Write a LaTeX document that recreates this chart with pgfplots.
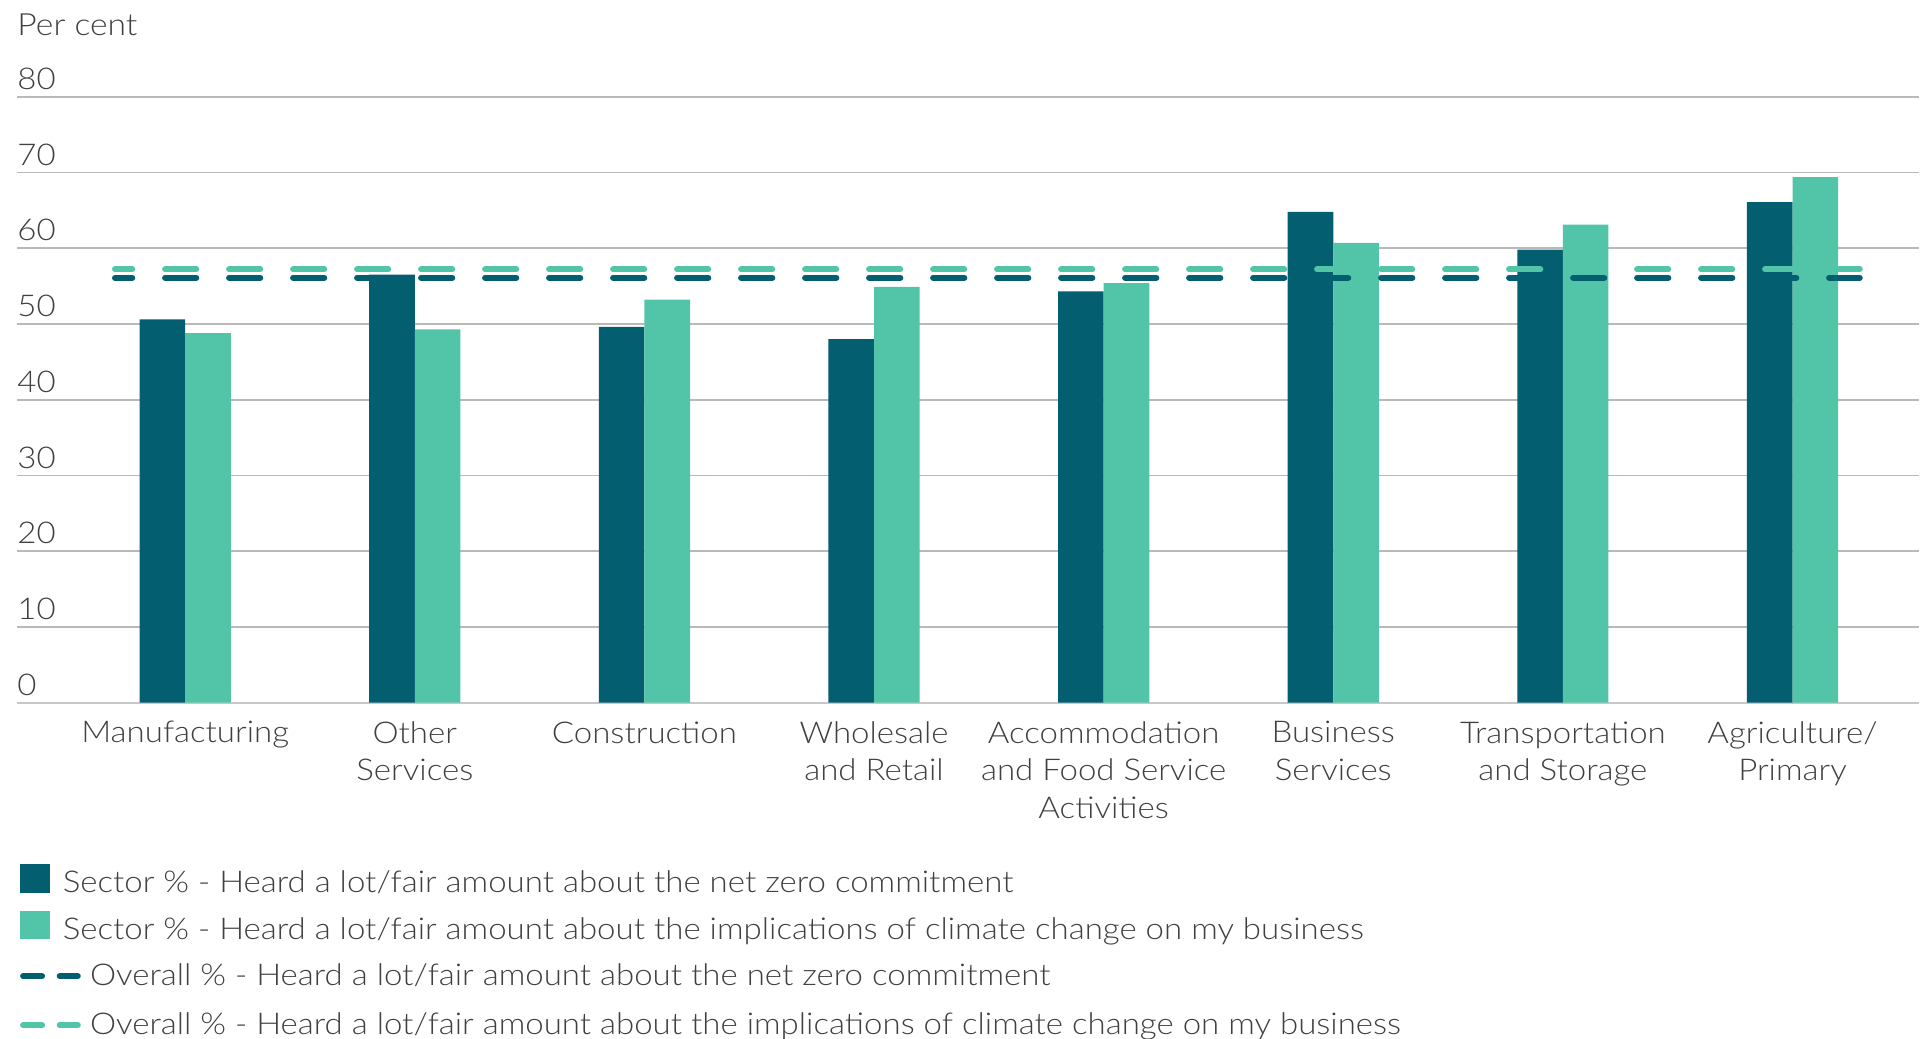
\documentclass[border=0pt]{standalone}
\usepackage{fontspec}
\setmainfont{Lato Light}[FakeStretch=1.1]
\usepackage{pgfplots}
\pgfplotsset{compat=1.18}
\definecolor{darkteal}{HTML}{035F70}
\definecolor{lightteal}{HTML}{52C5A8}
\definecolor{txt}{HTML}{404040}
\definecolor{gridc}{HTML}{B9B9B9}

\pgfplotstableread{
x dark light
0 50.6 48.8
1 56.5 49.3
2 49.6 53.2
3 48.0 54.9
4 54.3 55.4
5 64.8 60.7
6 59.8 63.1
7 66.1 69.4
}\sectordata

\begin{document}
\begin{tikzpicture}
\begin{axis}[
  scale only axis,
  width=950.95pt, height=303pt,
  xmin=-0.732, xmax=7.551,
  ymin=0, ymax=80,
  ytick={0,10,...,80},
  xtick={0,...,7},
  xticklabels={Manufacturing, Other\\Services, Construction, Wholesale\\and Retail, Accommodation\\and Food Service\\Activities, Business\\Services, Transportation\\and Storage, Agriculture/\\Primary},
  ymajorgrids,
  major grid style={gridc, line width=0.8pt},
  axis line style={draw=none},
  major tick length=0pt,
  tick style={draw=none},
  clip=false,
  /pgf/number format/assume math mode=true,
  yticklabel style={anchor=base west, inner sep=0pt, yshift=3.7pt, font=\fontsize{15}{18}\selectfont, text=txt},
  xticklabel style={anchor=north, align=center, inner sep=0pt, yshift=-9.2pt, font=\fontsize{15}{18.7}\selectfont, text=txt},
  legend style={at={(0,-0.2663)}, anchor=north west, draw=none, inner sep=0pt, outer sep=0pt,
    font=\fontsize{15}{17}\selectfont, text=txt, row sep=6.5pt, column sep=3.2pt,
    nodes={inner sep=0pt, text height=10.8pt, text depth=2.6pt}},
  legend cell align=left,
]
\coordinate (O) at (rel axis cs:0,0);
\draw[color={rgb,255:red,200;green,200;blue,200}, line width=1pt] (rel axis cs:0,0) -- (rel axis cs:1,0);
\addplot[ybar, bar width=22.8pt, bar shift=-11.4pt, fill=darkteal, draw=none,
  legend image code/.code={\fill[darkteal] (0pt,-4.1pt) rectangle (14.8pt,10.2pt); \path (0pt,-6.7pt) (30.35pt,10.2pt);}]
  table[x=x, y=dark] {\sectordata};
\addlegendentry{\hspace*{-13.7pt}Sector \% - Heard a lot/fair amount about the net zero commitment}
\addplot[ybar, bar width=22.8pt, bar shift=11.4pt, fill=lightteal, draw=none,
  legend image code/.code={\fill[lightteal] (0pt,-4.1pt) rectangle (14.8pt,10.2pt); \path (0pt,-6.7pt) (30.35pt,10.2pt);}]
  table[x=x, y=light] {\sectordata};
\addlegendentry{\hspace*{-13.7pt}Sector \% - Heard a lot/fair amount about the implications of climate change on my business}
\addplot[sharp plot, no marks, darkteal, line width=3pt, line cap=round, dash pattern=on 15.6pt off 16.4pt, dash phase=6.95pt,
  legend image code/.code={\draw[solid, darkteal, line width=3pt, line cap=round] (1.5pt,0.6pt) -- (11pt,0.6pt) (19.8pt,0.6pt) -- (28.85pt,0.6pt); \path (0pt,-6.7pt) (30.35pt,8.35pt);}]
  coordinates {(-0.3057,56.1) (7.293,56.1)};
\addlegendentry{Overall \% - Heard a lot/fair amount about the net zero commitment}
\addplot[sharp plot, no marks, lightteal, line width=3pt, line cap=round, dash pattern=on 15.6pt off 16.4pt, dash phase=6.95pt,
  legend image code/.code={\draw[solid, lightteal, line width=3pt, line cap=round] (1.5pt,0.6pt) -- (11pt,0.6pt) (19.8pt,0.6pt) -- (28.85pt,0.6pt); \path (0pt,-6.7pt) (30.35pt,8.35pt);}]
  coordinates {(-0.3057,57.2) (7.293,57.2)};
\addlegendentry{Overall \% - Heard a lot/fair amount about the implications of climate change on my business}
\node[anchor=base west, inner sep=0pt, text=txt, font=\fontsize{15.3}{18}\selectfont] at ([yshift=30.85pt]rel axis cs:0,1) {Per cent};
\end{axis}
\pgfresetboundingbox
\path ([xshift=-8.55pt, yshift=-167.65pt]O) rectangle ++(965.5pt,519pt);
\end{tikzpicture}
\end{document}
